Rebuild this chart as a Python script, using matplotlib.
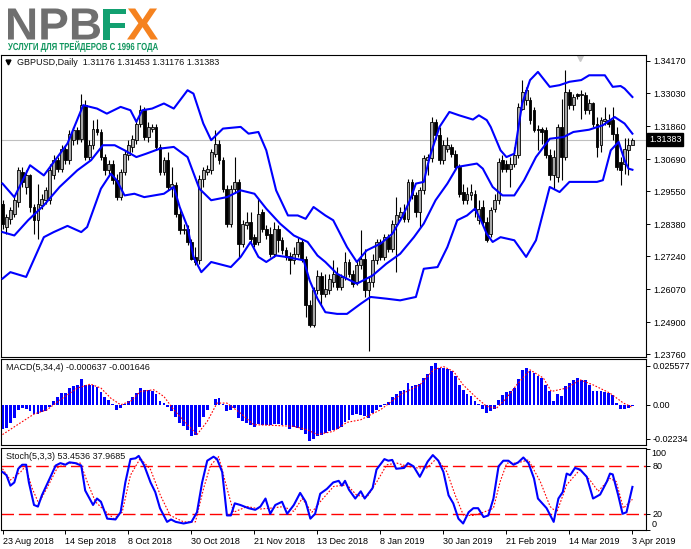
import matplotlib
matplotlib.use("Agg")
import matplotlib.pyplot as plt
import matplotlib.transforms as mtransforms
from matplotlib.textpath import TextPath
from matplotlib.patches import PathPatch
from matplotlib.font_manager import FontProperties
import numpy as np

plt.rcParams['font.family'] = ['Liberation Sans', 'DejaVu Sans']

# ---------------- data ----------------
opens = [1.2911,1.2828,1.2857,1.2875,1.2917,1.3023,1.2970,1.3011,1.2899,1.2852,
         1.2905,1.2923,1.2923,1.3011,1.3065,1.3035,1.3106,1.3065,1.3136,1.3171,
         1.3141,1.3260,1.3076,1.3118,1.3177,1.3165,1.3076,1.3029,1.3053,1.2994,
         1.2934,1.3023,1.3082,1.3112,1.3136,1.3195,1.3242,1.3147,1.3177,1.3183,
         1.3112,1.3023,1.3065,1.2970,1.2976,1.2875,1.2816,1.2822,1.2775,1.2722,
         1.2710,1.2999,1.3023,1.3029,1.3088,1.3124,1.3065,1.2964,1.2840,1.2964,
         1.2988,1.2769,1.2834,1.2846,1.2792,1.2775,1.2881,1.2822,1.2804,1.2733,
         1.2822,1.2781,1.2745,1.2727,1.2710,1.2733,1.2775,1.2716,1.2550,1.2479,
         1.2603,1.2656,1.2591,1.2603,1.2633,1.2662,1.2615,1.2651,1.2704,1.2662,
         1.2633,1.2692,1.2716,1.2603,1.2633,1.2710,1.2775,1.2722,1.2792,1.2751,
         1.2840,1.2863,1.2881,1.2857,1.2988,1.2940,1.2881,1.2958,1.3065,1.3071,
         1.3201,1.3153,1.3065,1.3106,1.3112,1.3088,1.3041,1.2952,1.2923,1.2940,
         1.2946,1.2852,1.2899,1.2846,1.2804,1.2893,1.2923,1.3065,1.3053,1.3035,
         1.3053,1.3082,1.3248,1.3277,1.3277,1.3242,1.3177,1.3177,1.3171,1.3082,
         1.3011,1.3005,1.3183,1.3076,1.3307,1.3260,1.3298,1.3295,1.3295,1.3242,
         1.3266,1.3195,1.3118,1.3204,1.3209,1.3207,1.3159,1.3059,1.3053,1.3100,
         1.31176]
highs = [1.2923,1.2875,1.2899,1.2940,1.3041,1.3041,1.3029,1.3017,1.2911,1.2982,
         1.2946,1.2970,1.3053,1.3082,1.3076,1.3118,1.3118,1.3171,1.3183,1.3183,
         1.3301,1.3277,1.3136,1.3207,1.3212,1.3177,1.3088,1.3065,1.3065,1.3017,
         1.3035,1.3100,1.3136,1.3153,1.3207,1.3260,1.3254,1.3201,1.3195,1.3195,
         1.3124,1.3076,1.3094,1.3041,1.2988,1.2887,1.2840,1.2834,1.2787,1.2757,
         1.3011,1.3041,1.3047,1.3106,1.3171,1.3136,1.3076,1.2976,1.2976,1.3076,
         1.2999,1.2852,1.2881,1.2881,1.2804,1.2929,1.2893,1.2834,1.2828,1.2846,
         1.2834,1.2792,1.2757,1.2739,1.2757,1.2792,1.2787,1.2727,1.2568,1.2615,
         1.2674,1.2668,1.2662,1.2662,1.2710,1.2686,1.2662,1.2739,1.2716,1.2674,
         1.2710,1.2816,1.2751,1.2656,1.2733,1.2787,1.2787,1.2804,1.2804,1.2852,
         1.2934,1.2899,1.2911,1.2999,1.2999,1.2952,1.2970,1.3082,1.3088,1.3218,
         1.3212,1.3183,1.3136,1.3147,1.3124,1.3100,1.3053,1.2982,1.2970,1.2982,
         1.2958,1.2923,1.2923,1.2863,1.2899,1.2946,1.3071,1.3082,1.3065,1.3076,
         1.3112,1.3266,1.3349,1.3325,1.3289,1.3254,1.3189,1.3183,1.3183,1.3106,
         1.3100,1.3195,1.3283,1.3384,1.3319,1.3301,1.3303,1.3313,1.3307,1.3283,
         1.3272,1.3218,1.3218,1.3254,1.3230,1.3254,1.3183,1.3076,1.3145,1.3145,
         1.31453]
lows = [1.2822,1.2804,1.2840,1.2863,1.2899,1.2970,1.2946,1.2881,1.2804,1.2787,
        1.2893,1.2911,1.2911,1.2999,1.3023,1.3023,1.3053,1.3053,1.3118,1.3124,
        1.3130,1.3065,1.3065,1.3106,1.3153,1.3065,1.3011,1.3017,1.2982,1.2923,
        1.2923,1.3011,1.3065,1.3094,1.3124,1.3183,1.3136,1.3130,1.3165,1.3100,
        1.3011,1.3011,1.2958,1.2934,1.2863,1.2804,1.2804,1.2763,1.2710,1.2692,
        1.2698,1.2970,1.3011,1.3017,1.3076,1.3053,1.2952,1.2828,1.2828,1.2952,
        1.2722,1.2757,1.2822,1.2775,1.2757,1.2763,1.2810,1.2787,1.2722,1.2722,
        1.2739,1.2733,1.2710,1.2662,1.2698,1.2722,1.2704,1.2509,1.2473,1.2473,
        1.2591,1.2550,1.2580,1.2591,1.2615,1.2603,1.2603,1.2639,1.2651,1.2615,
        1.2621,1.2680,1.2580,1.2390,1.2615,1.2698,1.2710,1.2710,1.2739,1.2739,
        1.2668,1.2852,1.2846,1.2846,1.2929,1.2863,1.2828,1.2946,1.3011,1.3059,
        1.3141,1.3053,1.3053,1.3094,1.3076,1.3029,1.2934,1.2911,1.2911,1.2923,
        1.2863,1.2840,1.2834,1.2775,1.2792,1.2881,1.2911,1.3023,1.3023,1.2970,
        1.3041,1.3071,1.3242,1.3260,1.3195,1.3165,1.3100,1.3124,1.3071,1.2994,
        1.2964,1.2988,1.2994,1.3065,1.3248,1.3242,1.3283,1.3212,1.3230,1.3230,
        1.3183,1.3076,1.3094,1.3189,1.3183,1.3136,1.3029,1.2976,1.3017,1.3011,
        1.31176]
closes = [1.2840,1.2863,1.2887,1.2923,1.3029,1.2988,1.3011,1.2899,1.2852,1.2911,
          1.2929,1.2958,1.3029,1.3065,1.3035,1.3106,1.3065,1.3159,1.3171,1.3141,
          1.3260,1.3076,1.3118,1.3177,1.3165,1.3076,1.3029,1.3053,1.2994,1.2934,
          1.3023,1.3088,1.3118,1.3141,1.3195,1.3242,1.3147,1.3183,1.3183,1.3112,
          1.3023,1.3065,1.2970,1.2982,1.2875,1.2816,1.2822,1.2775,1.2716,1.2704,
          1.2999,1.3029,1.3035,1.3094,1.3124,1.3065,1.2964,1.2840,1.2964,1.2988,
          1.2769,1.2840,1.2846,1.2787,1.2769,1.2875,1.2822,1.2798,1.2733,1.2822,
          1.2781,1.2745,1.2722,1.2710,1.2733,1.2775,1.2716,1.2550,1.2479,1.2603,
          1.2656,1.2591,1.2609,1.2645,1.2662,1.2615,1.2651,1.2704,1.2662,1.2627,
          1.2692,1.2716,1.2603,1.2633,1.2710,1.2775,1.2722,1.2792,1.2751,1.2840,
          1.2869,1.2881,1.2857,1.2988,1.2940,1.2881,1.2958,1.3071,1.3076,1.3201,
          1.3153,1.3065,1.3118,1.3118,1.3088,1.3041,1.2946,1.2923,1.2946,1.2952,
          1.2887,1.2893,1.2846,1.2781,1.2887,1.2923,1.3059,1.3035,1.3035,1.3053,
          1.3082,1.3254,1.3307,1.3313,1.3207,1.3171,1.3173,1.3165,1.3082,1.3011,
          1.3076,1.3183,1.3076,1.3307,1.3260,1.3289,1.3294,1.3301,1.3242,1.3266,
          1.3195,1.3112,1.3207,1.3212,1.3195,1.3159,1.3041,1.3029,1.3106,1.3118,
          1.31383]

# Bollinger bands (read at sampled bars)
upper_x = [0,3,7,10.5,16.5,20.5,24,26.5,30,32.5,34,35.5,38,41,43.5,47,48.5,51,53,56,
           60.5,62.5,65,67,69.5,72.5,75,77,79,82,84,87.5,90,92.5,96,99,101.5,103.5,105,107,
           108.5,111,113.5,116,119.5,121,123,124,126.5,128,130,132,134,136,139,141.5,144,147,149,153,
           155,157,158,160]
upper = [1.2982,1.2934,1.3047,1.3011,1.3124,1.3260,1.3248,1.3230,1.3254,1.3242,
         1.3201,1.3242,1.3248,1.3266,1.3248,1.3313,1.3301,1.3195,1.3136,1.3177,
         1.3183,1.3159,1.3165,1.3100,1.2958,1.2869,1.2869,1.2857,1.2899,1.2869,
         1.2852,1.2757,1.2704,1.2745,1.2769,1.2804,1.2863,1.2923,1.2982,1.2988,
         1.3076,1.3183,1.3236,1.3224,1.3209,1.3224,1.3207,1.3183,1.3100,1.3076,
         1.3088,1.3266,1.3349,1.3378,1.3325,1.3331,1.3343,1.3349,1.3366,1.3366,
         1.3325,1.3328,1.3319,1.3289]
mid_x = [0,3,6.5,10.5,14.5,19,22.5,25.5,28.5,31,34,36.5,40,43.5,47,50,53,57,60.5,64,
         67,70.5,74,77.5,80,82,85,90,94,97.5,101,104.5,107,110,113,115.5,118,120.5,122,124.5,
         127,130,132.5,135.5,139,142.5,145,149,152.5,155.5,158,160]
middle = [1.2810,1.2798,1.2852,1.2905,1.2970,1.3029,1.3065,1.3118,1.3118,1.3100,
          1.3076,1.3088,1.3106,1.3112,1.3076,1.2964,1.2923,1.2934,1.2958,1.2946,
          1.2893,1.2840,1.2798,1.2775,1.2727,1.2704,1.2662,1.2627,1.2656,1.2698,
          1.2733,1.2792,1.2840,1.2923,1.2982,1.3041,1.3047,1.3053,1.3035,1.2970,
          1.2940,1.2940,1.2994,1.3076,1.3141,1.3147,1.3165,1.3173,1.3189,1.3218,
          1.3195,1.3159]
low_x = [0,2,6,10.5,13,16.5,20,21.5,25,27.5,29,31,33.5,36,41,43.5,45,47,48.5,50.5,
         53,58,60.5,63,65,67,69.5,72,76.5,78,80,82,85,87.5,91,93.5,97.5,101,105,107,
         110.5,113,115.5,118,120,121.5,123,124.5,126.5,130,133,135.5,139,141.5,144,151,152.5,154.5,156.5,158,
         159,160]
lower = [1.2645,1.2668,1.2651,1.2792,1.2810,1.2832,1.2810,1.2828,1.2964,1.3017,
         1.2994,1.2940,1.2946,1.2934,1.2946,1.2970,1.2899,1.2828,1.2722,1.2668,
         1.2704,1.2686,1.2722,1.2775,1.2722,1.2704,1.2727,1.2722,1.2710,1.2639,
         1.2574,1.2526,1.2520,1.2520,1.2556,1.2580,1.2574,1.2568,1.2580,1.2680,
         1.2686,1.2757,1.2852,1.2869,1.2893,1.2852,1.2804,1.2775,1.2792,1.2781,
         1.2722,1.2781,1.2970,1.2952,1.2988,1.2988,1.2994,1.3100,1.3130,1.3065,
         1.3035,1.3031]

# MACD(5,34,4) histogram per bar
macd = [-0.0156,-0.0152,-0.0120,-0.0087,-0.0033,-0.0022,-0.0026,-0.0043,-0.0060,-0.0060,
        -0.0048,-0.0040,-0.0017,0.0026,0.0048,0.0076,0.0076,0.0108,0.0124,0.0130,
        0.0167,0.0130,0.0126,0.0130,0.0113,0.0082,0.0050,0.0028,0.0004,-0.0033,
        -0.0022,0.0004,0.0022,0.0048,0.0076,0.0108,0.0098,0.0098,0.0093,0.0069,
        0.0026,0.0009,-0.0017,-0.0040,-0.0082,-0.0120,-0.0141,-0.0163,-0.0206,-0.0195,
        -0.0148,-0.0082,-0.0033,-0.0004,0.0039,0.0043,0.0004,-0.0040,-0.0033,-0.0022,
        -0.0087,-0.0108,-0.0120,-0.0130,-0.0148,-0.0126,-0.0130,-0.0130,-0.0130,-0.0126,
        -0.0126,-0.0130,-0.0135,-0.0156,-0.0148,-0.0152,-0.0163,-0.0190,-0.0239,-0.0221,
        -0.0206,-0.0195,-0.0184,-0.0169,-0.0163,-0.0156,-0.0148,-0.0115,-0.0100,-0.0069,
        -0.0061,-0.0065,-0.0076,-0.0087,-0.0054,-0.0033,-0.0017,0.0004,0.0017,0.0048,
        0.0069,0.0087,0.0098,0.0141,0.0124,0.0126,0.0135,0.0174,0.0202,0.0250,
        0.0271,0.0243,0.0243,0.0234,0.0221,0.0191,0.0130,0.0098,0.0069,0.0054,
        0.0022,0.0004,-0.0026,-0.0054,-0.0040,-0.0026,0.0033,0.0065,0.0082,0.0091,
        0.0108,0.0169,0.0228,0.0239,0.0221,0.0206,0.0191,0.0174,0.0130,0.0087,
        0.0022,0.0069,0.0054,0.0124,0.0141,0.0163,0.0174,0.0163,0.0163,0.0126,
        0.0087,0.0087,0.0087,0.0082,0.0076,0.0061,0.0011,-0.0026,-0.0026,-0.0022,
        -0.000637]
signal_x = [0,4.5,8,11.3,14.7,19,22.3,25,27.5,30,32.5,35,38.4,41,43.5,47,49.4,52,54.5,57,
            60.4,63.8,69,74,77.3,80,84,87.5,91,96,101,106,109.5,112,114.6,117,120.5,123,125.5,128,
            130.6,134,137.4,139.4,143.3,146.7,150,154.3,157.7,160]
signal = [-0.0195,-0.0119,-0.0061,-0.0033,0.0033,0.0109,0.0135,0.0109,0.0043,0.0,
          0.0022,0.0087,0.0098,0.0054,-0.0033,-0.0130,-0.0195,-0.0109,0.0011,0.0011,
          -0.0054,-0.0130,-0.0135,-0.0141,-0.0163,-0.0195,-0.0174,-0.0115,-0.0098,-0.0033,
          0.0065,0.0130,0.0228,0.0250,0.0217,0.0130,0.0043,-0.0011,-0.0022,0.0043,
          0.0130,0.0228,0.0174,0.0087,0.0109,0.0163,0.0130,0.0076,0.0011,-0.001646]

# Stochastic(5,3,3)
k_x = [0,1,2,3,4,5,6,6.7,8,9,10,12,13.5,14.7,16,17,18.5,20,21,23,
       24,25,26.6,28.7,30,31.2,32.5,33.8,34.6,36,37.6,38.8,40,41.8,42.8,44,46,48,49.4,50.7,
       52,53.6,54.5,55.8,57,58,59,60.4,62.5,64.2,65.5,66.8,68,69.3,71,72.3,74,75.6,77,78.2,
       79.4,80.7,82.4,84,85.4,86.2,87,88,89.6,91,92,94,95,97,98,99,100,102,103,104.4,
       106,108,109.3,110.7,112,113.3,114.5,115.8,117,118.4,119.6,120.8,122.2,123.4,124.7,126,127.2,128.5,129.8,131,
       132.3,133.6,135,136,138.2,140,141.2,142.3,143.3,144.2,145.4,146.7,148.4,150,151.8,153.5,154.3,155,156.4,157.5,
       158.5,160]
stoch_k = [72,68,55,59,76,81,81,59,31,29,43,64,80,83,81,84,83,80,49,31,
           39,35,14,13,22,59,88,89,92,80,59,47,27,10,13,10,8,10,22,59,
           86,91,88,72,18,18,33,31,27,25,29,39,20,31,35,20,31,46,35,14,
           20,45,51,59,61,55,61,50,39,48,39,52,75,88,86,87,76,77,83,79,
           66,85,93,86,72,43,33,14,8,22,27,27,16,18,39,79,86,86,81,84,
           90,83,64,39,27,10,39,47,70,68,77,75,66,39,44,60,70,69,43,20,
           22,53.4536]
d_x = [0,2,4.6,5.8,7.5,9.2,11.3,13.9,16.4,19.8,21.5,23.6,25.7,28.3,30.4,32.5,35,37.6,40.1,42.6,
       46,49,51.1,52.8,54.9,57,58.7,62.1,65.5,68,71.4,74,76.1,78.6,80.7,84.1,87.5,90,92.6,95.1,
       97.6,100.2,102.9,105.4,107.8,110.3,112.9,115,117.1,119.6,122.2,124.7,126.4,128.1,130.6,133.6,136.6,139.1,140.8,143.3,
       146.7,149.2,151.3,154.3,155.9,157.7,160]
stoch_d = [76,62,72,79,52,33,52,77,83,83,60,35,25,14,22,68,89,75,43,18,
           10,10,52,80,91,52,22,29,26,27,29,23,39,22,35,54,56,43,41,60,
           81,83,79,77,77,89,72,43,18,18,22,27,60,83,83,87,60,29,22,56,
           75,62,48,64,60,27,37.9685]

price_ticks = [1.34170, 1.33030, 1.31860, 1.30690, 1.29550, 1.28380, 1.27240, 1.26070, 1.24900, 1.23760]
macd_ticks = [0.025577, 0.0, -0.02234]
macd_tick_labels = ['0.025577', '0.00', '-0.02234']
date_pos = [0, 16, 32, 48, 64, 80, 96, 112, 128, 144, 160]
date_labels = ['23 Aug 2018', '14 Sep 2018', '8 Oct 2018', '30 Oct 2018', '21 Nov 2018',
               '13 Dec 2018', '8 Jan 2019', '30 Jan 2019', '21 Feb 2019', '14 Mar 2019', '3 Apr 2019']

# ---------------- figure ----------------
W, H = 691, 549
fig = plt.figure(figsize=(W / 100, H / 100), dpi=100)
fig.patch.set_facecolor('white')

def rect(top, bottom, left=0.5, right=646):
    return [left / W, 1 - bottom / H, (right - left) / W, (bottom - top) / H]

ax = fig.add_axes(rect(54.5, 356.5))
axm = fig.add_axes(rect(359, 445))
axs = fig.add_axes(rect(448, 530))

XL = (-0.51, 163.45)
FS = 6.5
BLUE = '#0000ff'

for a in (ax, axm, axs):
    a.set_xlim(*XL)
    a.set_facecolor('white')
    for s in a.spines.values():
        s.set_linewidth(0.8)
        s.set_color('black')
    a.yaxis.tick_right()
    a.tick_params(axis='y', direction='out', length=3, width=0.7, pad=2,
                  labelsize=FS, colors='black')
    a.tick_params(axis='x', bottom=False, labelbottom=False)

# ---- main price panel ----
x = np.arange(len(closes))
o = np.array(opens); h = np.array(highs); l = np.array(lows); c = np.array(closes)
ax.axhline(closes[-1], color='#c0c0c0', lw=0.8, zorder=0)
ax.vlines(x, l, h, color='black', lw=0.8, zorder=2)
bull = c >= o
body_lo = np.minimum(o, c)
body_h = np.maximum(np.abs(c - o), 0.00025)
ax.bar(x[bull], body_h[bull], bottom=body_lo[bull], width=0.72,
       color='#a8a8a8', edgecolor='black', linewidth=0.6, zorder=3)
ax.bar(x[~bull], body_h[~bull], bottom=body_lo[~bull], width=0.72,
       color='black', edgecolor='black', linewidth=0.6, zorder=3)
ax.plot(upper_x, upper, color=BLUE, lw=1.5, zorder=4)
ax.plot(mid_x, middle, color=BLUE, lw=1.5, zorder=4)
ax.plot(low_x, lower, color=BLUE, lw=1.5, zorder=4)
ax.set_ylim(1.23689, 1.34397)
ax.set_yticks(price_ticks)
ax.set_yticklabels(['%.5f' % v for v in price_ticks])

blend = mtransforms.blended_transform_factory(ax.transAxes, ax.transData)
ax.text(1.0 + 3 / 645.5, closes[-1], '%.5f' % closes[-1], transform=blend,
        ha='left', va='center', fontsize=FS, color='white', zorder=10,
        bbox=dict(boxstyle='square,pad=0.18', fc='black', ec='black'), clip_on=False)
ax.plot([0.012], [0.974], marker='v', ms=3.5, color='black', transform=ax.transAxes,
        clip_on=False)
ax.text(0.025, 0.974, 'GBPUSD,Daily  %.5f %.5f %.5f %.5f' % (opens[-1], highs[-1], lows[-1], closes[-1]),
        transform=ax.transAxes, ha='left', va='center', fontsize=FS, color='#111111')
ax.plot([0.898], [0.993], marker='v', ms=6, color='#c8c8c8', transform=ax.transAxes,
        clip_on=True, zorder=1)

# ---- MACD panel ----
axm.bar(x, macd, width=0.72, color=BLUE, linewidth=0, zorder=2)
axm.plot(signal_x, signal, color='red', lw=0.8, ls=(0, (1.5, 1.5)), zorder=3)
axm.set_ylim(-0.0263, 0.0299)
axm.set_yticks(macd_ticks)
axm.set_yticklabels(macd_tick_labels)
axm.text(0.009, 0.899, 'MACD(5,34,4) %.6f %.6f' % (macd[-1], signal[-1]),
         transform=axm.transAxes, ha='left', va='center', fontsize=FS, color='#111111')

# ---- Stochastic panel ----
axs.axhline(80, color='red', lw=1.0, dashes=(9, 3.5))
axs.axhline(20, color='red', lw=1.0, dashes=(9, 3.5))
axs.plot(k_x, stoch_k, color=BLUE, lw=1.5, zorder=3)
axs.plot(d_x, stoch_d, color='red', lw=0.8, ls=(0, (1.5, 1.5)), zorder=2)
axs.set_ylim(-0.1, 101.8)
axs.set_yticks([0, 20, 80, 100])
axs.set_yticklabels(['', '20', '80', ''])
sblend = mtransforms.blended_transform_factory(axs.transAxes, axs.transData)
axs.text(1.0 + 5.5 / 645.5, 94.4, '100', transform=sblend, ha='left', va='center', fontsize=FS)
axs.text(1.0 + 5.5 / 645.5, 7.3, '0', transform=sblend, ha='left', va='center', fontsize=FS)
axs.text(0.009, 0.902, 'Stoch(5,3,3) %.4f %.4f' % (stoch_k[-1], stoch_d[-1]),
         transform=axs.transAxes, ha='left', va='center', fontsize=FS, color='#111111')
axs.set_xticks(date_pos)
axs.set_xticklabels(date_labels)
axs.tick_params(axis='x', bottom=True, labelbottom=True, direction='out', length=3,
                width=0.7, pad=2, labelsize=FS)
for lab in axs.get_xticklabels():
    lab.set_horizontalalignment('left')

# ---- logo ----
fp_bold = FontProperties(family='Liberation Sans', weight='bold')
cap_ref = TextPath((0, 0), 'H', size=100, prop=fp_bold).get_extents().height

def fitted(s, x0, x1, baseline, cap, color):
    tp = TextPath((0, 0), s, size=100, prop=fp_bold)
    ext = tp.get_extents()
    sx = (x1 - x0) / ext.width
    sy = cap / cap_ref
    tr = mtransforms.Affine2D().translate(-ext.x0, 0).scale(sx, sy).translate(x0, H - baseline)
    path = tr.transform_path(tp)
    fig.add_artist(PathPatch(path, facecolor=color, edgecolor='none', lw=0,
                             transform=mtransforms.IdentityTransform()))

fitted('NPB', 8, 100, 39.5, 31, '#6f6f6f')
fitted('F', 103, 126, 39.5, 31, '#12a070')
fitted('X', 127, 158, 39.5, 31, '#f5821f')
fitted('УСЛУГИ ДЛЯ ТРЕЙДЕРОВ С 1996 ГОДА', 8, 158, 50, 7, '#12965f')

fig.savefig('out.png', dpi=100, facecolor='white')
